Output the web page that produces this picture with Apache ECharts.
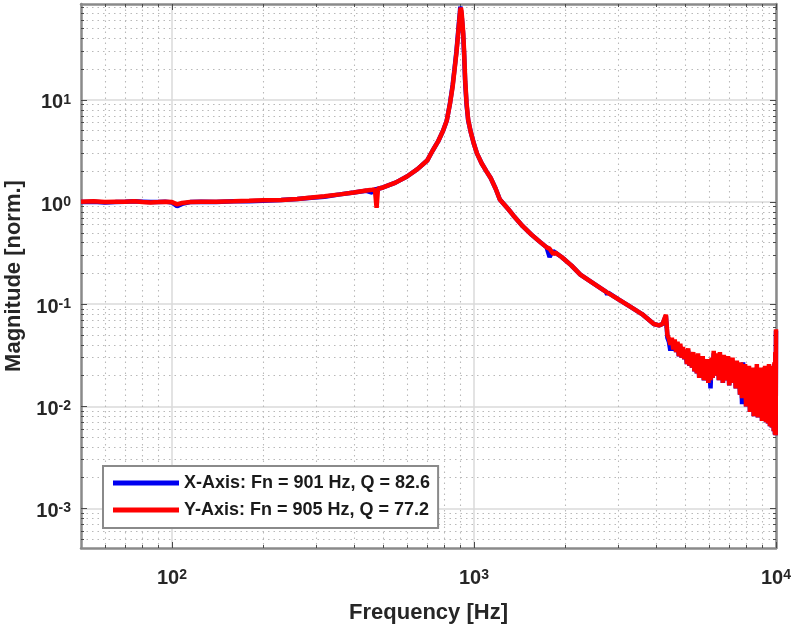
<!DOCTYPE html>
<html><head><meta charset="utf-8">
<script src="https://cdn.jsdelivr.net/npm/echarts@6/dist/echarts.min.js"></script>
<style>html,body{margin:0;padding:0;background:#fff}#c{width:791px;height:626px}</style>
</head><body><div id="c"></div>
<script>
const freqHz = [
50,55,60,65,70,75,80,85,90,95,
100,104,108,115,125,140,160,180,200,230,
260,290,320,360,400,440,460,470,476,481,
500,550,600,650,700,730,760,790,813,833,
850,862,875,885,893,898,901,905,909,914,
921,928,935,945,957,975,1000,1023,1060,1100,
1136,1180,1218,1300,1350,1450,1550,1650,1740,1780,
1800,1830,1860,1950,2100,2250,2500,2740,2760,2780,
3000,3300,3600,3940,4100,4210,
4320,4370,4420,4470,4520,4570,4620,4670,4720,4770,
4820,4870,4920,4970,5020,5070,5120,5170,5220,5270,
5320,5370,5420,5470,5520,5570,5620,5670,5720,5770,
5820,5870,5920,5970,6020,6070,6120,6170,6220,6270,
6320,6370,6420,6470,6520,6570,6620,6670,6720,6770,
6820,6880,6940,7000,7060,7120,7180,7240,7300,7360,
7420,7480,7540,7600,7660,7720,7780,7840,7900,7960,
8020,8080,8140,8200,8260,8320,8380,8440,8500,8570,
8640,8710,8780,8850,8920,8990,9060,9130,9200,9270,
9340,9410,9480,9550,9620,9690,9760,9830,9880,9920,
9950,9975,10000
];
const magX = [
1.00,1.01,0.99,1.00,1.01,1.02,1.01,1.00,1.00,1.01,
0.99,0.91,0.96,1.00,1.01,1.00,1.02,1.02,1.03,1.05,
1.07,1.10,1.13,1.19,1.24,1.29,1.24,1.33,1.34,1.35,
1.39,1.55,1.78,2.1,2.55,3.2,3.9,5.0,6.3,9.3,
14,20,30,44,60,72,82,79,70,58,
44,27,15,9.0,6.3,4.9,3.7,3.0,2.4,2.0,
1.72,1.35,1.06,0.85,0.74,0.58,0.48,0.41,0.36,0.29,
0.31,0.33,0.32,0.29,0.24,0.195,0.158,0.132,0.124,0.130,
0.112,0.094,0.080,0.064,0.062,0.064,
0.077,0.047,0.043,0.035,0.044,0.035,0.043,0.034,0.041,0.031,
0.039,0.030,0.036,0.029,0.034,0.026,0.035,0.025,0.032,0.024,
0.032,0.022,0.029,0.021,0.031,0.019,0.028,0.020,0.029,0.018,
0.026,0.019,0.027,0.017,0.024,0.0150,0.028,0.019,0.033,0.022,
0.031,0.020,0.029,0.018,0.032,0.021,0.027,0.017,0.030,0.019,
0.028,0.018,0.029,0.016,0.026,0.019,0.028,0.017,0.025,0.015,
0.026,0.015,0.023,0.013,0.026,0.0105,0.027,0.0105,0.025,0.010,
0.020,0.010,0.023,0.0088,0.019,0.0095,0.023,0.008,0.021,0.0092,
0.024,0.0078,0.020,0.0085,0.023,0.0072,0.019,0.0080,0.024,0.0070,
0.021,0.0068,0.025,0.0064,0.020,0.0062,0.024,0.0057,0.026,0.0053,
0.033,0.0052,0.055
];
const magY = [
1.01,1.02,1.00,1.01,1.01,1.02,1.00,0.99,1.00,1.01,
1.00,0.95,0.98,1.00,1.01,1.01,1.02,1.03,1.04,1.05,
1.07,1.11,1.14,1.19,1.24,1.30,1.32,1.33,0.88,1.35,
1.39,1.55,1.78,2.1,2.55,3.2,3.9,5.0,6.3,9.2,
13.5,19.5,29,42,57,69,76,80,75,62,
46,29,16,9.4,6.4,4.9,3.7,3.0,2.4,2.0,
1.72,1.35,1.06,0.85,0.74,0.58,0.48,0.41,0.36,0.35,
0.34,0.31,0.32,0.29,0.24,0.195,0.158,0.132,0.131,0.130,
0.112,0.094,0.080,0.064,0.062,0.064,
0.079,0.050,0.046,0.040,0.047,0.036,0.045,0.034,0.043,0.031,
0.041,0.030,0.038,0.029,0.036,0.026,0.037,0.025,0.033,0.024,
0.034,0.022,0.030,0.021,0.033,0.019,0.029,0.020,0.031,0.018,
0.027,0.019,0.029,0.017,0.025,0.018,0.030,0.019,0.035,0.022,
0.033,0.020,0.030,0.018,0.034,0.021,0.028,0.017,0.032,0.019,
0.029,0.018,0.031,0.016,0.027,0.019,0.030,0.017,0.026,0.015,
0.028,0.015,0.024,0.013,0.027,0.012,0.022,0.013,0.026,0.010,
0.021,0.010,0.025,0.0088,0.020,0.0095,0.024,0.008,0.022,0.0092,
0.026,0.0078,0.021,0.0088,0.024,0.0072,0.020,0.0080,0.025,0.0070,
0.022,0.0068,0.026,0.0064,0.021,0.0062,0.025,0.0057,0.027,0.0053,
0.034,0.0052,0.057
];
const seriesNames = ['X-Axis: Fn = 901 Hz, Q = 82.6', 'Y-Axis: Fn = 905 Hz, Q = 77.2'];
const xRange = [50, 10000];
const yRange = [0.00041, 87];
const xMajorTicks = [100, 1000, 10000];
const xMinorTicks = [60,70,80,90,200,300,400,500,600,700,800,900,2000,3000,4000,5000,6000,7000,8000,9000];
const yMajorTicks = [0.001, 0.01, 0.1, 1, 10];
const yMinorTicks = [0.0005,0.0006,0.0007,0.0008,0.0009,
  0.002,0.003,0.004,0.005,0.006,0.007,0.008,0.009,
  0.02,0.03,0.04,0.05,0.06,0.07,0.08,0.09,
  0.2,0.3,0.4,0.5,0.6,0.7,0.8,0.9,
  2,3,4,5,6,7,8,9,20,30,40,50,60,70,80];
const xTitle = 'Frequency [Hz]';
const yTitle = 'Magnitude [norm.]';

const FONT = '"Liberation Sans", Arial, Helvetica, sans-serif';
const TXT = '#262626';
const FRAME = '#8a8a8a';
const TICK = '#4a4a4a';

function powLabel(v) {
  const e = Math.round(Math.log10(v));
  return '{b|10}{s|' + e + '}';
}
const rich = {
  b: {fontSize: 20, fontWeight: 'bold', fontFamily: FONT, color: TXT, lineHeight: 20},
  s: {fontSize: 14, fontWeight: 'bold', fontFamily: FONT, color: TXT, lineHeight: 10, verticalAlign: 'top'}
};
const majorSplit = {show: true, lineStyle: {color: '#dadada', width: 1.5, type: 'solid'}};
const minorSplit = {show: true, lineStyle: {color: '#b9b9b9', width: 1.1, type: [1.5, 4]}};

function axisDef(dim, pos, major, withLine, withLabel, withSplit) {
  const range = dim === 'x' ? xRange : yRange;
  const ticks = dim === 'x' ? (major ? xMajorTicks : xMinorTicks) : (major ? yMajorTicks : yMinorTicks);
  return {
    type: 'log', logBase: 10, min: range[0], max: range[1], position: pos,
    axisLine: {show: withLine, onZero: false, lineStyle: {color: FRAME, width: 2.5}},
    axisTick: {show: true, inside: true, length: major ? 6 : 3, customValues: ticks,
      lineStyle: {color: TICK, width: 1}},
    minorTick: {show: false},
    minorSplitLine: {show: false},
    splitLine: withSplit ? (major ? majorSplit : minorSplit) : {show: false},
    axisLabel: withLabel ? {
      show: true, customValues: ticks, formatter: powLabel, rich: rich,
      margin: dim === 'x' ? 20 : 10,
      padding: dim === 'x' ? 0 : [6, 0, 0, 0]
    } : {show: false},
    axisPointer: {show: false}
  };
}

const xAxes = [
  axisDef('x', 'bottom', true, true, true, true),
  axisDef('x', 'bottom', false, false, false, true),
  axisDef('x', 'top', true, true, false, false),
  axisDef('x', 'top', false, false, false, false)
];
Object.assign(xAxes[0], {
  name: xTitle, nameLocation: 'middle', nameGap: 54,
  nameTextStyle: {fontSize: 22, fontWeight: 'bold', fontFamily: FONT, color: TXT}
});
const yAxes = [
  axisDef('y', 'left', true, true, true, true),
  axisDef('y', 'left', false, false, false, true),
  axisDef('y', 'right', true, true, false, false),
  axisDef('y', 'right', false, false, false, false)
];
Object.assign(yAxes[0], {
  name: yTitle, nameLocation: 'middle', nameGap: 54,
  nameTextStyle: {fontSize: 22, fontWeight: 'bold', fontFamily: FONT, color: TXT}
});

const chart = echarts.init(document.getElementById('c'), null, {renderer: 'canvas'});
chart.setOption({
  animation: false,
  backgroundColor: '#ffffff',
  grid: {left: 81, right: 15, top: 4, bottom: 78, containLabel: false, outerBoundsMode: 'none'},
  legend: {
    data: seriesNames, orient: 'vertical', left: 103, top: 466,
    icon: 'rect',
    backgroundColor: '#ffffff', borderColor: FRAME, borderWidth: 2, borderRadius: 0,
    padding: [7, 8, 8, 10], itemGap: 7, itemWidth: 66, itemHeight: 5,
    selectedMode: false,
    textStyle: {fontSize: 18, fontWeight: 'bold', fontFamily: FONT, color: '#1a1a1a', lineHeight: 20}
  },
  xAxis: xAxes,
  yAxis: yAxes,
  series: [
    {name: seriesNames[0], type: 'line', xAxisIndex: 0, yAxisIndex: 0, symbol: 'none', showSymbol: false,
     clip: true, z: 3, lineStyle: {color: '#0000f0', width: 4.5}, itemStyle: {color: '#0000f0'},
     data: freqHz.map((f, i) => [f, magX[i]])},
    {name: seriesNames[1], type: 'line', xAxisIndex: 0, yAxisIndex: 0, symbol: 'none', showSymbol: false,
     clip: true, z: 4, lineStyle: {color: '#ff0000', width: 4.5}, itemStyle: {color: '#ff0000'},
     data: freqHz.map((f, i) => [f, magY[i]])}
  ]
});
</script></body></html>
